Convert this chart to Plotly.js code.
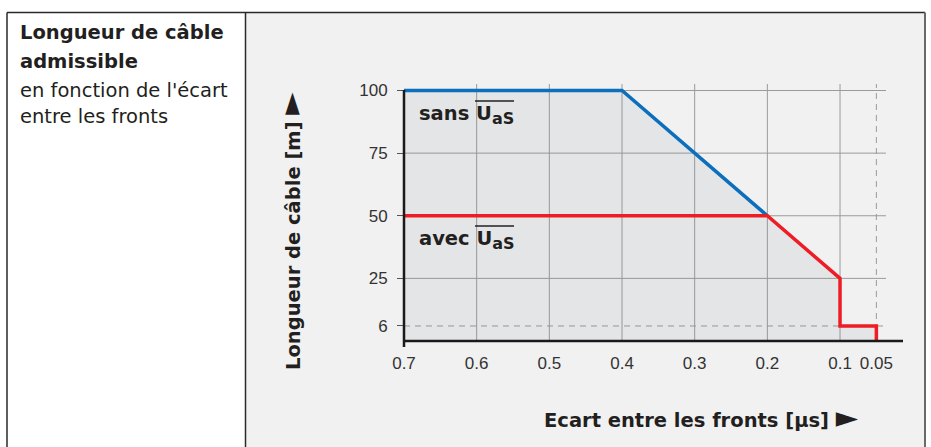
<!DOCTYPE html>
<html><head><meta charset="utf-8">
<script src="https://cdn.plot.ly/plotly-3.0.1.min.js"></script>
<style>html,body{margin:0;padding:0;background:#fff;}#chart{width:931px;height:447px;}</style>
</head><body><div id="chart"></div>
<script>
// ---- data ----
const xTickVals = [0.7, 0.6, 0.5, 0.4, 0.3, 0.2, 0.1, 0.05];
const xTickText = ['0.7', '0.6', '0.5', '0.4', '0.3', '0.2', '0.1', '0.05'];
const yTickVals = [6, 25, 50, 75, 100];
const yTickText = ['6', '25', '50', '75', '100'];
const sansX = [0.7, 0.4, 0.2];
const sansY = [100, 100, 50];
const avecX = [0.7, 0.2, 0.1, 0.1, 0.05, 0.05];
const avecY = [50, 50, 25, 6, 6, 0];
const areaX = [0.7, 0.4, 0.2, 0.1, 0.1, 0.05, 0.05];
const areaY = [100, 100, 50, 25, 6, 6, 0];
const solidGridX = [0.6, 0.5, 0.4, 0.3, 0.2, 0.1];
const dashedGridX = [0.05];
const solidGridY = [25, 50, 75, 100];
const dashedGridY = [6];

// ---- geometry helpers (pixel -> paper) ----
const L = 404, R = 886, T = 84, B = 341, FW = 931, FH = 447;
const px = x => (x - L) / (R - L);
const py = y => (B - y) / (B - T);

const BOLD = 'DejaVu Sans';
const REG = 'Liberation Sans, Arial, sans-serif';
const TXT = '#231f20';

const shapes = [];
// right cell background
shapes.push({type:'rect', xref:'paper', yref:'paper', x0:px(246), x1:px(924), y0:py(FH+2), y1:py(13), fillcolor:'#f1f1f1', line:{width:0}, layer:'below'});
// frame
const frame = {color:'#2a2a2a', width:1.5};
shapes.push({type:'line', xref:'paper', yref:'paper', x0:px(7), x1:px(925), y0:py(12.5), y1:py(12.5), line:frame});
shapes.push({type:'line', xref:'paper', yref:'paper', x0:px(7), x1:px(7), y0:py(12.5), y1:py(FH+2), line:frame});
shapes.push({type:'line', xref:'paper', yref:'paper', x0:px(245.5), x1:px(245.5), y0:py(12.5), y1:py(FH+2), line:frame});
shapes.push({type:'line', xref:'paper', yref:'paper', x0:px(925), x1:px(925), y0:py(12.5), y1:py(FH+2), line:{color:'#6a6a6a', width:2}});
// grid
solidGridX.forEach(v => shapes.push({type:'line', xref:'x', yref:'paper', x0:v, x1:v, y0:0, y1:1, line:{color:'#9a9a9a', width:1}, layer:'below'}));
dashedGridX.forEach(v => shapes.push({type:'line', xref:'x', yref:'paper', x0:v, x1:v, y0:0, y1:1, line:{color:'#9a9a9a', width:1, dash:'6px,5px'}, layer:'below'}));
solidGridY.forEach(v => shapes.push({type:'line', xref:'paper', yref:'y', x0:0, x1:1, y0:v, y1:v, line:{color:'#9a9a9a', width:1}, layer:'below'}));
dashedGridY.forEach(v => shapes.push({type:'line', xref:'paper', yref:'y', x0:0, x1:1, y0:v, y1:v, line:{color:'#9a9a9a', width:1, dash:'6px,5px'}, layer:'below'}));
// axis lines
shapes.push({type:'line', xref:'paper', yref:'paper', x0:px(403), x1:px(903), y0:0, y1:0, line:{color:'#1a1a1a', width:2.5}});
shapes.push({type:'line', xref:'paper', yref:'paper', x0:0, x1:0, y0:py(347), y1:py(90), line:{color:'#1a1a1a', width:2.5}});
// overlines above U_aS in the two labels
[101, 226].forEach(y => shapes.push({type:'line', xref:'paper', yref:'paper', x0:px(475), x1:px(514), y0:py(y), y1:py(y), line:{color:TXT, width:1.6}}));

const annotations = [];
const leftLines = [
  ['<b>Longueur de câble</b>', 32],
  ['<b>admissible</b>', 61],
  ['en fonction de l\'écart', 90],
  ['entre les fronts', 116]
];
leftLines.forEach(([t, y]) => annotations.push({xref:'paper', yref:'paper', x:px(18), y:py(y), xanchor:'left', yanchor:'middle', showarrow:false, text:t, font:{family:BOLD, size:19.5, color:TXT}}));
const uas = 'U<sub><span style="font-size:16px">aS</span></sub>';
annotations.push({xref:'paper', yref:'paper', x:px(417), y:py(115), xanchor:'left', yanchor:'middle', showarrow:false,
  text:'<b>sans ' + uas + '</b>', font:{family:BOLD, size:19.5, color:TXT}});
annotations.push({xref:'paper', yref:'paper', x:px(417), y:py(240), xanchor:'left', yanchor:'middle', showarrow:false,
  text:'<b>avec ' + uas + '</b>', font:{family:BOLD, size:19.5, color:TXT}});
const arrow = '<span style="font-size:29px">►</span>';
annotations.push({xref:'paper', yref:'paper', x:px(290), y:py(231), xanchor:'center', yanchor:'middle', showarrow:false, textangle:-90,
  text:'<b>Longueur de câble [m] ' + arrow + '</b>', font:{family:BOLD, size:19.5, color:TXT}});
annotations.push({xref:'paper', yref:'paper', x:px(701), y:py(417), xanchor:'center', yanchor:'middle', showarrow:false,
  text:'<b>Ecart entre les fronts [µs] ' + arrow + '</b>', font:{family:BOLD, size:19.5, color:TXT}});

const traces = [
  {x:areaX, y:areaY, type:'scatter', mode:'lines', fill:'tozeroy', fillcolor:'rgba(120,125,145,0.10)', line:{width:0}, hoverinfo:'skip', showlegend:false},
  {x:sansX, y:sansY, type:'scatter', mode:'lines', line:{color:'#0b6fbd', width:3.5}, name:'sans', showlegend:false},
  {x:avecX, y:avecY, type:'scatter', mode:'lines', line:{color:'#ee1d25', width:3.5}, name:'avec', showlegend:false}
];

const layout = {
  width: FW, height: FH,
  margin: {l:L, r:FW - R, t:T, b:FH - B, pad:0},
  paper_bgcolor:'#ffffff', plot_bgcolor:'rgba(0,0,0,0)',
  showlegend:false,
  xaxis:{range:[0.7, 0.7 - (R - L) / 726.7], tickvals:xTickVals, ticktext:xTickText, showgrid:false, zeroline:false, showline:false,
    ticks:'', ticklabelstandoff:10, tickfont:{family:REG, size:17, color:'#333'}},
  yaxis:{range:[0, (B - T) / 2.505], tickvals:yTickVals, ticktext:yTickText, showgrid:false, zeroline:false, showline:false,
    ticks:'outside', ticklen:6, tickwidth:1, tickcolor:'#555', ticklabelstandoff:6, tickfont:{family:REG, size:17, color:'#333'}},
  shapes: shapes,
  annotations: annotations
};
Plotly.newPlot('chart', traces, layout, {staticPlot:true, displayModeBar:false});
</script>
</body></html>
